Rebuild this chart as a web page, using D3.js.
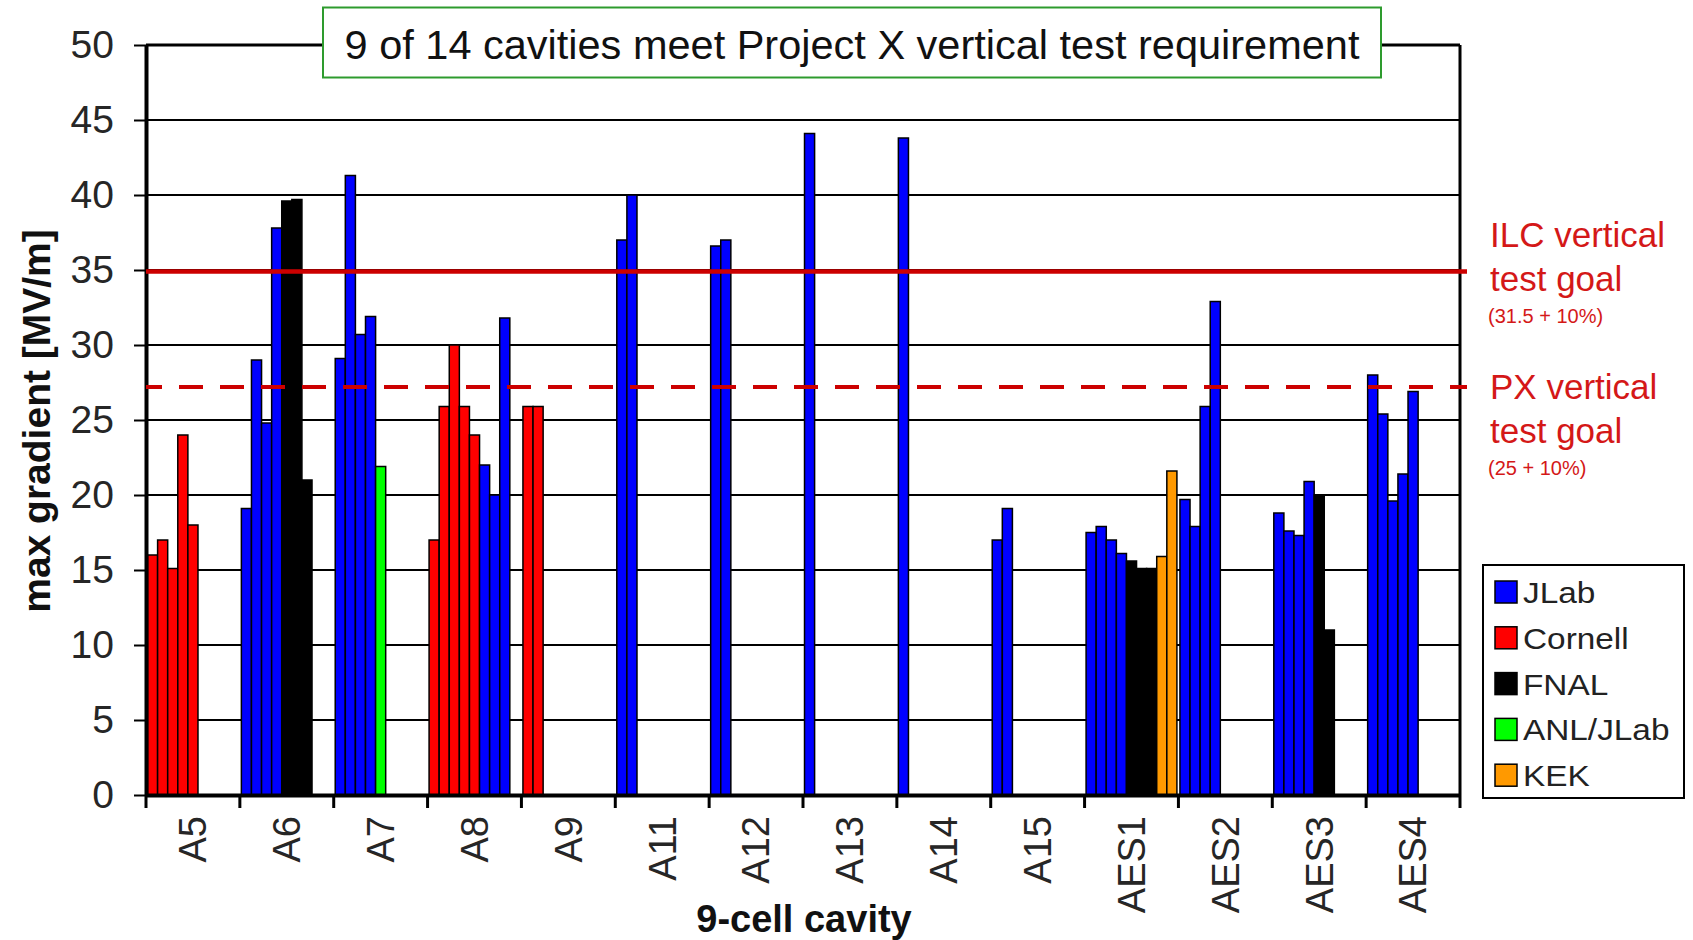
<!DOCTYPE html>
<html>
<head>
<meta charset="utf-8">
<script src="https://cdn.jsdelivr.net/npm/d3@7"></script>
<style>
	body { margin: 0; background: #fff; }
	#chartDiv { width: 1693px; height: 940px; }
	text { font-family: "Liberation Sans", Arial, sans-serif; }
</style>
</head>
<body>
<div id="chartDiv"></div>
<script>
// cavities on the x axis, one group of test results per cavity
const cavities = ["A5", "A6", "A7", "A8", "A9", "A11", "A12", "A13", "A14", "A15", "AES1", "AES2", "AES3", "AES4"];

const gradients = [
	[16, 17, 15.1, 24, 18],
	[19.1, 29, 24.8, 37.8, 39.6, 39.7, 21],
	[29.1, 41.3, 30.7, 31.9, 21.9],
	[17, 25.9, 30, 25.9, 24, 22, 20, 31.8],
	[25.9, 25.9],
	[37, 40],
	[36.6, 37],
	[44.1],
	[43.8],
	[17, 19.1],
	[17.5, 17.9, 17, 16.1, 15.6, 15.1, 15.1, 15.9, 21.6],
	[19.7, 17.9, 25.9, 32.9],
	[18.8, 17.6, 17.3, 20.9, 20, 11],
	[28, 25.4, 19.6, 21.4, 26.9]
];

const testSites = [
	["Cornell", "Cornell", "Cornell", "Cornell", "Cornell"],
	["JLab", "JLab", "JLab", "JLab", "FNAL", "FNAL", "FNAL"],
	["JLab", "JLab", "JLab", "JLab", "ANL/JLab"],
	["Cornell", "Cornell", "Cornell", "Cornell", "Cornell", "JLab", "JLab", "JLab"],
	["Cornell", "Cornell"],
	["JLab", "JLab"],
	["JLab", "JLab"],
	["JLab"],
	["JLab"],
	["JLab", "JLab"],
	["JLab", "JLab", "JLab", "JLab", "FNAL", "FNAL", "FNAL", "KEK", "KEK"],
	["JLab", "JLab", "JLab", "JLab"],
	["JLab", "JLab", "JLab", "JLab", "FNAL", "FNAL"],
	["JLab", "JLab", "JLab", "JLab", "JLab"]
];

const sites = ["JLab", "Cornell", "FNAL", "ANL/JLab", "KEK"];
const yTickValues = [0, 5, 10, 15, 20, 25, 30, 35, 40, 45, 50];

const goalValues = [34.9, 27.2];
const goalNames = ["ILC vertical", "PX vertical"];
const goalNotes = ["(31.5 + 10%)", "(25 + 10%)"];

const chartTitle = "9 of 14 cavities meet Project X vertical test requirement";
const xTitle = "9-cell cavity";
const yTitle = "max gradient [MV/m]";

const margin = {
	left: 146,
	right: 233,
	top: 45,
	bottom: 145
};

function makeSvg(parentDivID){
	const chartDiv = document.getElementById(parentDivID);
	const svgObj = d3.select(chartDiv).append("svg")
		.attr("width", chartDiv.clientWidth)
		.attr("height", chartDiv.clientHeight);
	const plotG = svgObj.append("g")
		.attr("transform", `translate(${margin.left},${margin.top})`);
	return { chartDiv, svgObj, plotG };
}

function buildChart(){
	const { chartDiv, svgObj, plotG } = makeSvg("chartDiv");
	const w = chartDiv.clientWidth - margin.left - margin.right;
	const h = chartDiv.clientHeight - margin.top - margin.bottom;

	const colorScale = d3.scaleOrdinal()
		.domain(sites)
		.range(["#0000ff", "#ff0000", "#000000", "#00ff00", "#ff9900"]);

	const xScale = d3.scaleBand().domain(cavities).range([0, w]);
	const maxTests = d3.max(gradients, g => g.length);
	const slotScale = d3.scaleBand()
		.domain(d3.range(maxTests))
		.range([0, xScale.bandwidth()])
		.paddingOuter(0.15);
	const yScale = d3.scaleLinear().domain([0, 50]).range([h, 0]);

	// horizontal grid
	plotG.append("g").selectAll("line")
		.data(yTickValues.filter(v => v > 0 && v < 50))
		.join("line")
		.attr("x1", 0).attr("x2", w)
		.attr("y1", d => yScale(d)).attr("y2", d => yScale(d))
		.attr("stroke", "#000").attr("stroke-width", 2);

	// bars
	const barData = cavities.flatMap((c, i) => gradients[i].map((v, j) => ({ cav: c, slot: j, value: v, site: testSites[i][j] })));
	plotG.append("g").selectAll("rect")
		.data(barData)
		.join("rect")
		.attr("x", d => xScale(d.cav) + slotScale(d.slot))
		.attr("width", slotScale.bandwidth())
		.attr("y", d => yScale(d.value))
		.attr("height", d => h - yScale(d.value))
		.attr("fill", d => colorScale(d.site))
		.attr("stroke", "#000")
		.attr("stroke-width", 1.5);

	// top and right frame
	plotG.append("line")
		.attr("x1", 0).attr("x2", w).attr("y1", 0).attr("y2", 0)
		.attr("stroke", "#000").attr("stroke-width", 3);
	plotG.append("line")
		.attr("x1", w).attr("x2", w).attr("y1", 0).attr("y2", h)
		.attr("stroke", "#000").attr("stroke-width", 3);

	// y axis
	const yAxis = plotG.append("g")
		.call(d3.axisLeft(yScale).tickValues(yTickValues).tickSize(12).tickSizeOuter(0).tickPadding(20));
	yAxis.select(".domain").attr("stroke-width", 4);
	yAxis.selectAll(".tick line").attr("stroke-width", 2);
	yAxis.selectAll("text")
		.attr("font-size", 39)
		.attr("fill", "#262626")
		.attr("font-family", "Liberation Sans, Arial, sans-serif");

	// x axis: labels at band centres, ticks at band edges
	const xAxis = plotG.append("g")
		.attr("transform", `translate(0,${h})`)
		.call(d3.axisBottom(xScale).tickSize(0).tickSizeOuter(0));
	xAxis.select(".domain").attr("stroke-width", 4);
	xAxis.selectAll("text")
		.attr("transform", "rotate(-90)")
		.attr("x", -21)
		.attr("y", 0)
		.attr("dy", "0.35em")
		.attr("text-anchor", "end")
		.attr("font-size", 38)
		.attr("fill", "#262626")
		.attr("font-family", "Liberation Sans, Arial, sans-serif");
	xAxis.append("g").selectAll("line")
		.data(cavities.map(c => xScale(c)).concat([w]))
		.join("line")
		.attr("x1", d => d).attr("x2", d => d)
		.attr("y1", 0).attr("y2", 13)
		.attr("stroke", "#000").attr("stroke-width", 3);

	// goal lines
	plotG.append("line")
		.attr("x1", 0).attr("x2", w + 7)
		.attr("y1", yScale(goalValues[0])).attr("y2", yScale(goalValues[0]))
		.attr("stroke", "#cc0000").attr("stroke-width", 4.5);
	plotG.append("line")
		.attr("x1", 0).attr("x2", w + 7)
		.attr("y1", yScale(goalValues[1])).attr("y2", yScale(goalValues[1]))
		.attr("stroke", "#cc0000").attr("stroke-width", 4)
		.attr("stroke-dasharray", "24 17")
		.attr("stroke-dashoffset", 8);

	// goal annotations
	const noteG = svgObj.append("g").attr("fill", "#d41818");
	const noteTop = [247, 399];
	goalNames.forEach((name, i) => {
		noteG.append("text").attr("x", 1490).attr("y", noteTop[i])
			.attr("font-size", 35).text(name);
		noteG.append("text").attr("x", 1490).attr("y", noteTop[i] + 44)
			.attr("font-size", 35).text("test goal");
		noteG.append("text").attr("x", 1488).attr("y", noteTop[i] + 76)
			.attr("font-size", 20).text(goalNotes[i]);
	});

	// title box
	svgObj.append("rect")
		.attr("x", 323).attr("y", 7.5)
		.attr("width", 1058).attr("height", 70)
		.attr("fill", "#fff")
		.attr("stroke", "#2e9b2e").attr("stroke-width", 2);
	svgObj.append("text")
		.attr("x", 852).attr("y", 59)
		.attr("text-anchor", "middle")
		.attr("font-size", 41.5)
		.attr("fill", "#111")
		.text(chartTitle);

	// axis titles
	svgObj.append("text")
		.attr("transform", "translate(36,421) rotate(-90)")
		.attr("dy", "0.35em")
		.attr("text-anchor", "middle")
		.attr("font-size", 39)
		.attr("font-weight", "bold")
		.attr("fill", "#111")
		.text(yTitle);
	svgObj.append("text")
		.attr("x", 804).attr("y", 932)
		.attr("text-anchor", "middle")
		.attr("font-size", 38)
		.attr("font-weight", "bold")
		.attr("fill", "#111")
		.text(xTitle);

	// legend
	const legendG = svgObj.append("g").attr("transform", "translate(1483,565)");
	legendG.append("rect")
		.attr("width", 201).attr("height", 233)
		.attr("fill", "#fff")
		.attr("stroke", "#000").attr("stroke-width", 2);
	const items = legendG.selectAll("g.item")
		.data(sites)
		.join("g")
		.attr("class", "item")
		.attr("transform", (d, i) => `translate(12,${16 + i * 45.8})`);
	items.append("rect")
		.attr("width", 22).attr("height", 22)
		.attr("fill", d => colorScale(d))
		.attr("stroke", "#000").attr("stroke-width", 1.5);
	items.append("text")
		.attr("transform", "translate(28,22) scale(1.15,1)")
		.attr("font-size", 29)
		.attr("fill", "#222")
		.text(d => d);
}

buildChart();
</script>
</body>
</html>
